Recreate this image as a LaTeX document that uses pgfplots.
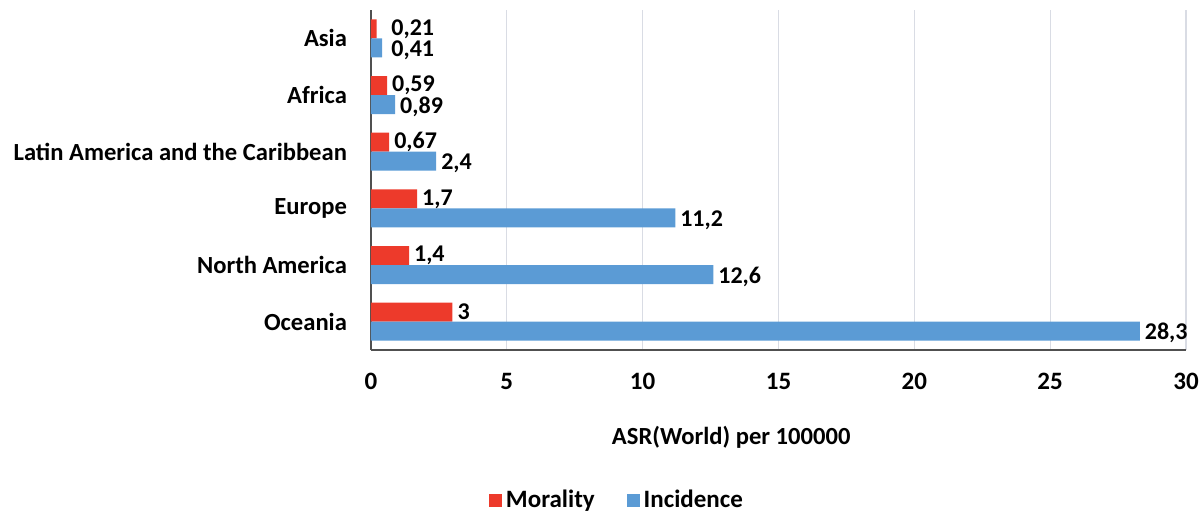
\documentclass[border=0pt]{standalone}
\usepackage{pgfplots}
\pgfplotsset{compat=1.18}
\usepackage{fontspec}
\setmainfont{Carlito}
\definecolor{mred}{RGB}{237,58,43}
\definecolor{mblue}{RGB}{91,155,213}
\definecolor{gridc}{RGB}{217,220,228}
\definecolor{axc}{RGB}{80,80,80}
\begin{document}
\begin{tikzpicture}
\begin{axis}[
  scale only axis,
  width=407.5pt, height=170pt,
  xmin=0, xmax=30,
  ymin=-0.5, ymax=5.5,
  xtick={0,5,...,30},
  ytick={0,1,2,3,4,5},
  yticklabels={Oceania,North America,Europe,Latin America and the Caribbean,Africa,Asia},
  axis x line*=bottom,
  axis y line*=left,
  axis line style={axc, line width=0.9pt},
  x axis line style={-},
  y axis line style={-},
  major tick length=0pt,
  xmajorgrids,
  grid style={gridc, line width=0.6pt},
  xbar,
  bar width=9.5pt,
  /pgf/number format/assume math mode=true,
  /pgf/number format/use comma,
  /pgf/number format/precision=2,
  xticklabel style={font=\bfseries\fontsize{12.5}{14}\selectfont, text=black, yshift=-8pt},
  yticklabel style={font=\bfseries\fontsize{12.3}{14}\selectfont, text=black, xshift=-8.5pt},
  xlabel={ASR(World) per 100000},
  xlabel style={font=\bfseries\fontsize{12.3}{14}\selectfont, at={(rel axis cs:0.442,0)}, anchor=center, yshift=-43.5pt},
  nodes near coords,
  visualization depends on={rawx \as \rawxval},
  every node near coord/.append style={font=\bfseries\fontsize{12}{14}\selectfont, text=black, anchor=west, inner ysep=0pt, xshift={max(-1pt,6.7pt-\rawxval*13.583pt)}},
  legend style={draw=none, at={(rel axis cs:0.303,0)}, anchor=center, yshift=-75pt, legend columns=2, font=\bfseries\fontsize{12.5}{14}\selectfont, /tikz/every even column/.append style={column sep=14pt}, /tikz/every odd column/.append style={}},
  legend cell align=left,
]
\addplot[fill=mred, draw=none, bar shift=4.75pt,
  legend image code/.code={\fill[mred] (0pt,-3.25pt) rectangle (6.5pt,3.25pt);}]
  coordinates {(3,0) (1.4,1) (1.7,2) (0.67,3) (0.59,4) (0.21,5)};
\addlegendentry{Morality}
\addplot[fill=mblue, draw=none, bar shift=-4.75pt,
  every node near coord/.append style={yshift=-1pt},
  legend image code/.code={\fill[mblue] (0pt,-3.25pt) rectangle (6.5pt,3.25pt);}]
  coordinates {(28.3,0) (12.6,1) (11.2,2) (2.4,3) (0.89,4) (0.41,5)};
\addlegendentry{Incidence}
\coordinate (sw) at (rel axis cs:0,0);
\end{axis}
\pgfresetboundingbox
\path[use as bounding box] (sw) ++(-185.5pt,-82pt) rectangle ++(602pt,257pt);
\end{tikzpicture}
\end{document}
